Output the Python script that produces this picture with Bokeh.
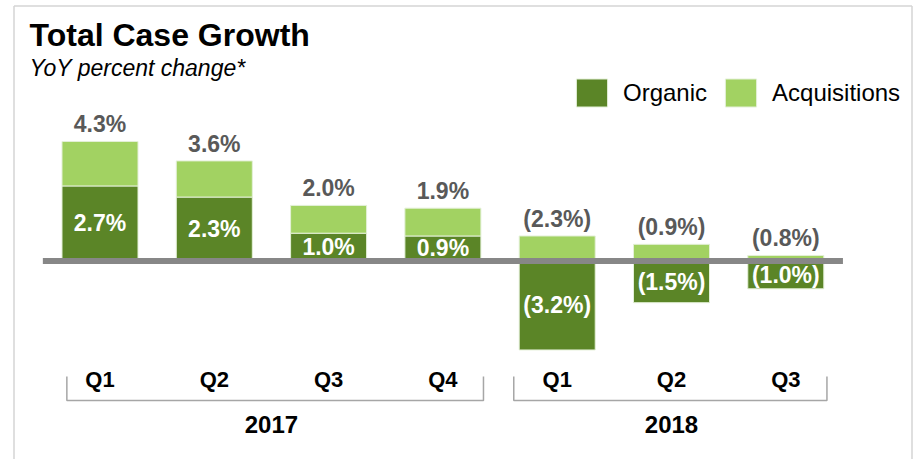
from bokeh.plotting import figure
from bokeh.models import Range1d, Label, Legend, LegendItem, ColumnDataSource
from bokeh.embed import file_html
from bokeh.resources import INLINE
from bokeh.core.properties import value

# ---- data ----
quarters = ["Q1", "Q2", "Q3", "Q4", "Q1", "Q2", "Q3"]
years = ["2017", "2018"]
year_sizes = [4, 3]
organic = [2.7, 2.3, 1.0, 0.9, -3.2, -1.5, -1.0]
acquisitions = [1.6, 1.3, 1.0, 1.0, 0.9, 0.6, 0.2]

# ---- style / layout ----
W, H = 915, 459
ORG = "#5b8527"
ACQ = "#a2d262"
OUT = "#e4f0d8"
FONT = "Liberation Sans"
X0_PX = 99.5      # canvas x of first bar centre
UX = 114.3        # px per category
Z_PX = 260.5      # canvas y of zero
UY = 27.8         # px per percent
BRACKET_PAD = [(0.29, 0.355), (0.38, 0.36)]


def cx(px):
    return (px - X0_PX) / UX


def cy(py):
    return (Z_PX - py) / UY


def fmt(v):
    return f"({abs(v):.1f}%)" if v < 0 else f"{v:.1f}%"


idx = list(range(len(quarters)))
acq_bottom = [max(o, 0) for o in organic]
acq_top = [b + a for b, a in zip(acq_bottom, acquisitions)]
totals = [o + a for o, a in zip(organic, acquisitions)]

src = ColumnDataSource(dict(
    x=idx, org=organic, acq_bottom=acq_bottom, acq_top=acq_top,
    org_mid=[o / 2 for o in organic],
    org_lbl=[fmt(o) for o in organic],
    tot_lbl=[fmt(t) for t in totals],
    tot_y=acq_top, q=quarters,
))

p = figure(width=W, height=H,
           x_range=Range1d(cx(0), cx(W)),
           y_range=Range1d(cy(H), cy(0)),
           x_axis_type=None, y_axis_type=None,
           output_backend="svg", toolbar_location=None,
           min_border=0, outline_line_color=None)
p.background_fill_color = "white"
p.border_fill_color = "white"

# frame
p.multi_line(xs=[[cx(13.5), cx(13.5)], [cx(13.5), cx(911.5)], [cx(911.5), cx(911.5)]],
             ys=[[cy(470), cy(5.5)], [cy(5.5), cy(5.5)], [cy(5.5), cy(470)]],
             line_color="#d4d4d4", line_width=1.5)

BW = 0.665
r_org = p.vbar(x="x", bottom=0, top="org", width=BW, fill_color=ORG,
               line_color=OUT, line_width=1, source=src)
r_acq = p.vbar(x="x", bottom="acq_bottom", top="acq_top", width=BW, fill_color=ACQ,
               line_color=OUT, line_width=1, source=src)

# zero line
p.segment(x0=idx[0] - 0.5, y0=0, x1=idx[-1] + 0.5, y1=0,
          line_color="#878787", line_width=6)

# labels
p.text(x="x", y="org_mid", text="org_lbl", source=src, text_align="center",
       text_baseline="middle", text_color="white", text_font=value(FONT),
       text_font_style="bold", text_font_size="23px")
p.text(x="x", y="tot_y", text="tot_lbl", source=src, text_align="center",
       text_baseline="middle", y_offset=-17, text_color="#595959",
       text_font=value(FONT), text_font_style="bold", text_font_size="23px")
p.text(x="x", y=cy(378.5), text="q", source=src, text_align="center",
       text_baseline="middle", text_color="#000000", text_font=value(FONT),
       text_font_style="bold", text_font_size="22px")

# year groups and brackets
starts = []
s = 0
for n in year_sizes:
    starts.append(s)
    s += n
year_x = [st + (n - 1) / 2 for st, n in zip(starts, year_sizes)]
p.text(x=year_x, y=[cy(423.5)] * len(years), text=years, text_align="center",
       text_baseline="middle", text_color="#000000", text_font=value(FONT),
       text_font_style="bold", text_font_size="24px")
b_top, b_bot = cy(376), cy(400)
xs, ys = [], []
for st, n, (pl, pr) in zip(starts, year_sizes, BRACKET_PAD):
    xl, xr = st - pl, st + n - 1 + pr
    xs.append([xl, xl, xr, xr])
    ys.append([b_top, b_bot, b_bot, b_top])
p.multi_line(xs=xs, ys=ys, line_color="#a6a6a6", line_width=1.5)

# title
p.add_layout(Label(x=29, y=H - 34, x_units="screen", y_units="screen",
                   text="Total Case Growth", text_font=FONT, text_font_size="32px",
                   text_font_style="bold", text_color="#000000",
                   text_baseline="middle"))
p.add_layout(Label(x=29, y=H - 67.5, x_units="screen", y_units="screen",
                   text="YoY percent change*", text_font=FONT, text_font_size="23px",
                   text_font_style="italic", text_color="#000000",
                   text_baseline="middle"))

legend = Legend(items=[LegendItem(label="Organic", renderers=[r_org]),
                       LegendItem(label="Acquisitions", renderers=[r_acq])],
                location=(572, H - 110), orientation="horizontal",
                glyph_width=39, glyph_height=35, label_standoff=12, spacing=14,
                padding=0, margin=0, border_line_color=None,
                background_fill_alpha=0, label_text_font=FONT,
                label_text_font_size="24px", label_text_color="#000000")
p.add_layout(legend)

open("out.html", "w").write(file_html(p, INLINE))
